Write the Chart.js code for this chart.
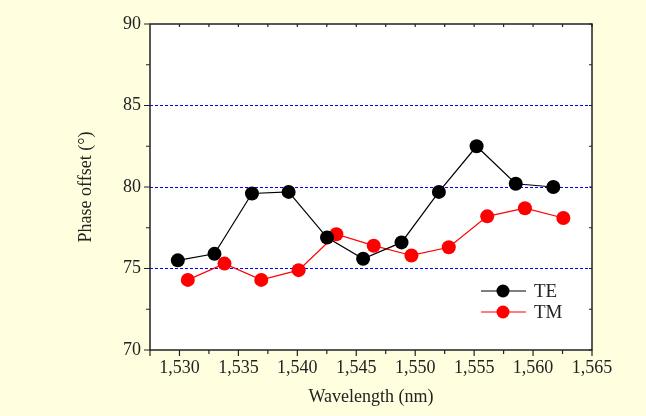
<!DOCTYPE html>
<html>
<head>
<meta charset="utf-8">
<script src="https://cdn.jsdelivr.net/npm/chart.js@4"></script>
<style>
  html, body { margin: 0; padding: 0; background: #ffffe0; }
  #wrap { width: 646px; height: 416px; }
</style>
</head>
<body>
<div id="wrap"><canvas id="chart"></canvas></div>
<script>
// data
const teWavelength = [1529.86, 1532.97, 1536.15, 1539.26, 1542.52, 1545.58, 1548.84, 1552.01, 1555.21, 1558.53, 1561.72];
const tePhase = [75.5, 75.9, 79.6, 79.7, 76.9, 75.6, 76.6, 79.7, 82.5, 80.2, 80.0];
const tmWavelength = [1530.71, 1533.82, 1536.94, 1540.11, 1543.31, 1546.48, 1549.68, 1552.85, 1556.11, 1559.31, 1562.57];
const tmPhase = [74.3, 75.3, 74.3, 74.9, 77.1, 76.4, 75.8, 76.3, 78.2, 78.7, 78.1];
const seriesNames = ['TE', 'TM'];
const dashedLevels = [75, 80, 85];

const serif = 'Liberation Serif, Times New Roman, serif';

function toPoints(xs, ys) {
  return xs.map((x, i) => ({x: x, y: ys[i]}));
}

// frame + ticks on all four sides, and the legend inside the plot
const framePlugin = {
  id: 'frame',
  afterDraw(chart) {
    const ctx = chart.ctx;
    const a = chart.chartArea;
    const xs = chart.scales.x, ys = chart.scales.y;
    ctx.save();
    ctx.strokeStyle = '#222';
    ctx.lineWidth = 1.5;
    ctx.strokeRect(a.left, a.top, a.right - a.left, a.bottom - a.top);
    ctx.lineWidth = 1.2;
    ctx.beginPath();
    for (let v = 1530; v <= 1565; v += 2.5) {
      const px = xs.getPixelForValue(v);
      const major = v % 5 === 0;
      ctx.moveTo(px, a.bottom); ctx.lineTo(px, a.bottom + (major ? 6 : 4));
      ctx.moveTo(px, a.top); ctx.lineTo(px, a.top + 3);
    }
    ctx.moveTo(a.left, a.bottom); ctx.lineTo(a.left, a.bottom + 6);
    for (let v = 70; v <= 90; v += 2.5) {
      const py = ys.getPixelForValue(v);
      const major = v % 5 === 0;
      ctx.moveTo(a.left, py); ctx.lineTo(a.left - (major ? 6 : 4), py);
      ctx.moveTo(a.right, py); ctx.lineTo(a.right - 3, py);
    }
    ctx.stroke();

    // legend
    const colors = ['#000000', '#ff0000'];
    const lx = a.right - 111, ty = a.bottom - 59;
    ctx.font = '19px ' + serif;
    ctx.textBaseline = 'middle';
    seriesNames.forEach((name, i) => {
      const y = ty + i * 21;
      ctx.strokeStyle = colors[i];
      ctx.lineWidth = 1.2;
      ctx.beginPath();
      ctx.moveTo(lx, y); ctx.lineTo(lx + 45, y);
      ctx.stroke();
      ctx.fillStyle = colors[i];
      ctx.beginPath();
      ctx.arc(lx + 22, y, 6.5, 0, Math.PI * 2);
      ctx.fill();
      ctx.fillStyle = '#222';
      ctx.fillText(name, lx + 53, y + 1);
    });
    ctx.restore();
  }
};

const bgPlugin = {
  id: 'bg',
  beforeDraw(chart) {
    const ctx = chart.ctx;
    const a = chart.chartArea;
    ctx.save();
    ctx.fillStyle = '#ffffe0';
    ctx.fillRect(0, 0, chart.width, chart.height);
    ctx.fillStyle = '#ffffff';
    ctx.fillRect(a.left, a.top, a.right - a.left, a.bottom - a.top);
    ctx.restore();
  }
};

new Chart(document.getElementById('chart'), {
  type: 'scatter',
  data: {
    datasets: [
      {
        label: seriesNames[0],
        data: toPoints(teWavelength, tePhase),
        showLine: true,
        borderColor: '#000000',
        backgroundColor: '#000000',
        borderWidth: 1.2,
        pointRadius: 7,
        pointHoverRadius: 7,
        pointBorderWidth: 0
      },
      {
        label: seriesNames[1],
        data: toPoints(tmWavelength, tmPhase),
        showLine: true,
        borderColor: '#ff0000',
        backgroundColor: '#ff0000',
        borderWidth: 1.2,
        pointRadius: 7,
        pointHoverRadius: 7,
        pointBorderWidth: 0
      }
    ]
  },
  options: {
    responsive: true,
    maintainAspectRatio: false,
    animation: false,
    layout: { padding: { left: 0, right: 54, top: 24, bottom: 0 } },
    plugins: {
      legend: { display: false },
      tooltip: { enabled: false }
    },
    scales: {
      x: {
        type: 'linear',
        min: 1527.5,
        max: 1565,
        afterFit: s => { s.height = 66; },
        afterBuildTicks: s => {
          const t = [];
          for (let v = 1530; v <= 1565; v += 5) t.push({value: v});
          s.ticks = t;
        },
        grid: { display: false, drawTicks: false },
        border: { display: false },
        ticks: {
          color: '#222',
          padding: 7,
          maxRotation: 0,
          font: { family: serif, size: 18 },
          callback: v => v.toLocaleString('en-US')
        },
        title: {
          display: true,
          text: 'Wavelength (nm)',
          color: '#222',
          padding: { top: 0, bottom: 8 },
          font: { family: serif, size: 18 }
        }
      },
      y: {
        min: 70,
        max: 90,
        afterFit: s => { s.width = 150; },
        afterBuildTicks: s => {
          const t = [];
          for (let v = 70; v <= 90; v += 5) t.push({value: v});
          s.ticks = t;
        },
        grid: {
          drawTicks: false,
          color: c => dashedLevels.includes(c.tick.value) ? '#0000ff' : 'rgba(0,0,0,0)',
          lineWidth: 1
        },
        border: { display: false, dash: [3, 2] },
        ticks: {
          color: '#222',
          padding: 9,
          font: { family: serif, size: 18 }
        },
        title: {
          display: true,
          text: 'Phase offset (°)',
          color: '#222',
          padding: { top: 75, bottom: 0 },
          font: { family: serif, size: 18 }
        }
      }
    }
  },
  plugins: [bgPlugin, framePlugin]
});
</script>
</body>
</html>
